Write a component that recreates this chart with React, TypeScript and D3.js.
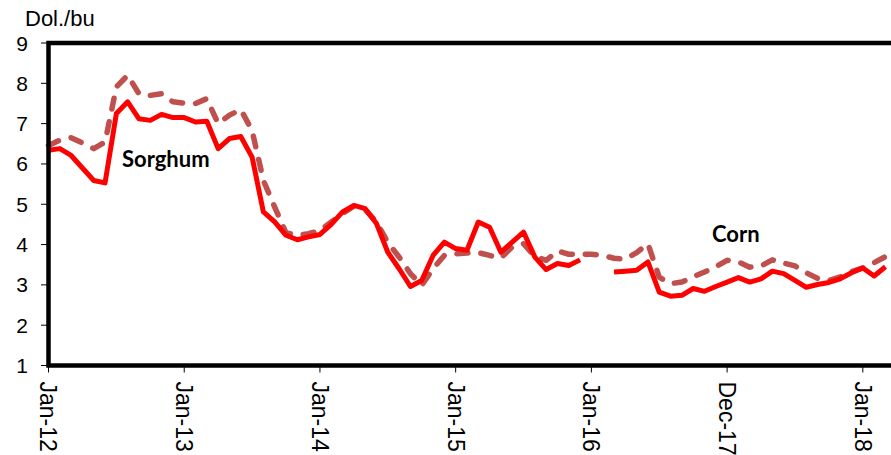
import React from "react";
import * as d3 from "d3";

const sorghum: (number | null)[] = [
  6.34, 6.38, 6.21, 5.9, 5.59, 5.53, 7.25, 7.54, 7.12, 7.08, 7.23, 7.15,
  7.15, 7.04, 7.06, 6.38, 6.63, 6.68, 6.17, 4.81, 4.56, 4.23, 4.12, 4.19,
  4.25, 4.5, 4.81, 4.97, 4.89, 4.52, 3.81, 3.4, 2.96, 3.11, 3.73, 4.06,
  3.9, 3.86, 4.56, 4.43, 3.81, 4.06, 4.31, 3.69, 3.38, 3.53, 3.48, 3.62,
  null, null, 3.32, 3.34, 3.36, 3.57, 2.82, 2.72, 2.74, 2.91, 2.84, 2.96,
  3.07, 3.18, 3.07, 3.15, 3.34, 3.28, 3.11, 2.94, 3.01, 3.06, 3.15, 3.3,
  3.42, 3.22, 3.45,
];

const corn: (number | null)[] = [
  6.46, 6.59, 6.65, 6.52, 6.38, 6.54, 7.91, 8.2, 7.74, 7.7, 7.74, 7.54,
  7.51, 7.5, 7.62, 7.0, 7.21, 7.35, 6.83, 5.59, 4.93, 4.29, 4.23, 4.27,
  4.35, 4.56, 4.77, 4.95, 4.87, 4.56, 4.05, 3.69, 3.28, 2.99, 3.4, 3.73,
  3.77, 3.79, 3.8, 3.73, 3.67, 3.94, 4.02, 3.7, 3.61, 3.84, 3.76, 3.76,
  3.76, 3.73, 3.66, 3.64, 3.8, 4.02, 3.19, 3.03, 3.07, 3.2, 3.32, 3.45,
  3.61, 3.57, 3.44, 3.47, 3.62, 3.54, 3.47, 3.3, 3.16, 3.11, 3.2, 3.33,
  3.42, 3.55, 3.7,
];

const xTickIndex = [0, 12, 24, 36, 48, 60, 72];
const xTickLabels = ["Jan-12", "Jan-13", "Jan-14", "Jan-15", "Jan-16", "Dec-17", "Jan-18"];
const yTicks = [1, 2, 3, 4, 5, 6, 7, 8, 9];

export default function App() {
  const W = 891;
  const H = 455;
  const left = 48.5;
  const top = 43;
  const bottom = 365.5;
  const x = d3.scaleLinear().domain([0, 72]).range([left, left + 11.31 * 72]);
  const y = d3.scaleLinear().domain([1, 9]).range([bottom, top]);

  const line = d3
    .line<number | null>()
    .defined((d) => d !== null)
    .x((_, i) => x(i))
    .y((d) => y(d as number));

  return (
    <svg
      width={W}
      height={H}
      style={{ position: "absolute", left: 0, top: 0, background: "#fff" }}
    >
      <rect x={0} y={0} width={W} height={H} fill="#fff" />
      {yTicks.map((t) => (
        <g key={t}>
          <line x1={41} x2={left} y1={y(t)} y2={y(t)} stroke="#000" strokeWidth={1} />
          <text
            x={28}
            y={y(t)}
            dy="0.36em"
            textAnchor="end"
            fontFamily="Liberation Sans, Arial, sans-serif"
            fontSize={21}
            fill="#000"
          >
            {t}
          </text>
        </g>
      ))}
      {xTickIndex.map((m, i) => (
        <g key={m}>
          <line x1={x(m)} x2={x(m)} y1={bottom} y2={bottom + 7} stroke="#000" strokeWidth={1} />
          <text
            transform={`translate(${x(m)},${bottom + 16}) rotate(90)`}
            dy="0.35em"
            textAnchor="start"
            fontFamily="Liberation Sans, Arial, sans-serif"
            fontSize={23}
            fill="#000"
          >
            {xTickLabels[i]}
          </text>
        </g>
      ))}
      <text
        x={25}
        y={26}
        fontFamily="Liberation Sans, Arial, sans-serif"
        fontSize={22}
        fill="#000"
      >
        Dol./bu
      </text>
      <path
        d={line(corn) || ""}
        fill="none"
        stroke="#C0504D"
        strokeWidth={5.5}
        strokeDasharray="11,13"
        strokeLinecap="round"
        strokeLinejoin="round"
      />
      <path
        d={line(sorghum) || ""}
        fill="none"
        stroke="#FF0000"
        strokeWidth={5}
        strokeLinejoin="round"
      />
      <rect
        x={left}
        y={top}
        width={W + 20 - left}
        height={bottom - top}
        fill="none"
        stroke="#000"
        strokeWidth={4.5}
      />
      <text x={122} y={167} fontFamily="Lato, sans-serif" fontWeight="bold" fontSize={22} fill="#000">
        Sorghum
      </text>
      <text x={712} y={242} fontFamily="Lato, sans-serif" fontWeight="bold" fontSize={22} fill="#000">
        Corn
      </text>
    </svg>
  );
}
